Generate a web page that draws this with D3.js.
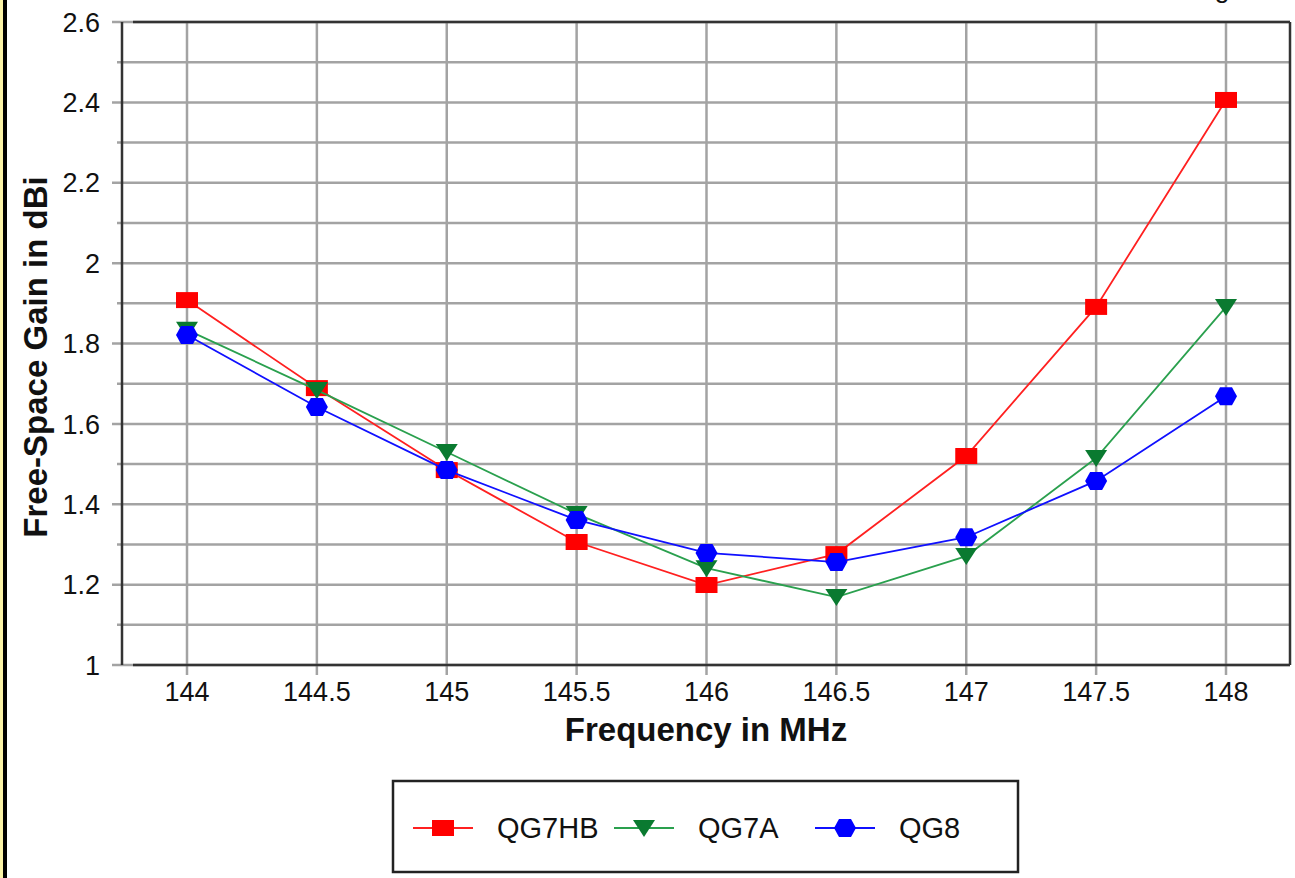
<!DOCTYPE html>
<html><head><meta charset="utf-8">
<script src="https://cdn.jsdelivr.net/npm/d3@7"></script>
<style>
html,body{margin:0;padding:0;background:#fff;overflow:hidden}
text{font-family:"Liberation Sans",Arial,sans-serif;fill:#111}
</style></head>
<body>
<svg id="c" width="1295" height="878"></svg>
<script>
const frequencies = [144, 144.5, 145, 145.5, 146, 146.5, 147, 147.5, 148];
const qg7hb = [1.908, 1.689, 1.485, 1.306, 1.199, 1.276, 1.520, 1.891, 2.406];
const qg7a  = [1.834, 1.684, 1.530, 1.376, 1.241, 1.169, 1.271, 1.515, 1.891];
const qg8   = [1.821, 1.642, 1.485, 1.361, 1.279, 1.256, 1.318, 1.458, 1.669];
const seriesNames = ["QG7HB", "QG7A", "QG8"];
const xTickLabels = ["144","144.5","145","145.5","146","146.5","147","147.5","148"];
const yTickLabels = ["1","1.2","1.4","1.6","1.8","2","2.2","2.4","2.6"];
const yMinorTicks = [1.1,1.3,1.5,1.7,1.9,2.1,2.3,2.5];

const svg = d3.select("#c");
const L = 122, R = 1290, T = 22, B = 665;
const x = d3.scaleLinear().domain([144,148]).range([187,1226]);
const y = d3.scaleLinear().domain([1,2.6]).range([B,T]);

// left border strip
svg.append("rect").attr("x",0).attr("y",0).attr("width",3).attr("height",878).attr("fill","#fbf3a6");
svg.append("rect").attr("x",3).attr("y",0).attr("width",4).attr("height",878).attr("fill","#000");

// clipped title descender (cut off at the top edge, as in the reference)
svg.append("text").attr("x",1222).attr("y",-3).attr("text-anchor","middle").style("font-size","27px").text("g");

const gridColor = "#a3a3a3", axisColor = "#333";
const yVals = yTickLabels.map(Number);
svg.append("g").selectAll("line").data(yVals.concat(yMinorTicks)).join("line")
  .attr("x1", d => yMinorTicks.includes(d) ? 117 : 112).attr("x2", R)
  .attr("y1", d => y(d)).attr("y2", d => y(d))
  .attr("stroke", gridColor).attr("stroke-width", 2.5);
const xVals = xTickLabels.map(Number);
svg.append("g").selectAll("line").data(xVals).join("line")
  .attr("x1", d => x(d)).attr("x2", d => x(d))
  .attr("y1", T).attr("y2", B + 10)
  .attr("stroke", gridColor).attr("stroke-width", 2.5);

const frame = svg.append("g").attr("stroke", axisColor).attr("stroke-width", 2.5);
frame.append("line").attr("x1", L).attr("x2", L).attr("y1", T).attr("y2", B);
frame.append("line").attr("x1", 133).attr("x2", R).attr("y1", T).attr("y2", T);
frame.append("line").attr("x1", 133).attr("x2", R).attr("y1", B).attr("y2", B);
frame.append("line").attr("x1", R).attr("x2", R).attr("y1", T).attr("y2", B);

svg.append("g").selectAll("text").data(yTickLabels).join("text")
  .attr("x", 100).attr("y", d => y(+d)).attr("dy","0.36em")
  .attr("text-anchor","end").style("font-size","27px").text(d => d);
svg.append("g").selectAll("text").data(xTickLabels).join("text")
  .attr("x", d => x(+d)).attr("y", 701)
  .attr("text-anchor","middle").style("font-size","27px").text(d => d);

svg.append("text").attr("x", 706).attr("y", 741).attr("text-anchor","middle")
  .style("font-size","33px").style("font-weight","bold").text("Frequency in MHz");
svg.append("text").attr("transform","translate(47,357) rotate(-90)").attr("text-anchor","middle")
  .style("font-size","33px").style("font-weight","bold").text("Free-Space Gain in dBi");

const markers = {
  square: (cx,cy) => `M${cx-11},${cy-8}h22v16h-22Z`,
  tri: (cx,cy) => `M${cx-11},${cy-8}h22l-11,17Z`,
  hex: (cx,cy) => `M${cx-11},${cy}L${cx-6},${cy-9}H${cx+6}L${cx+11},${cy}L${cx+6},${cy+9}H${cx-6}Z`
};
const series = [
  {name: seriesNames[0], values: qg7hb, line: "#ff2020", fill: "#ff0000", m: "square"},
  {name: seriesNames[1], values: qg7a,  line: "#2aa04e", fill: "#0a7a30", m: "tri"},
  {name: seriesNames[2], values: qg8,   line: "#1010ff", fill: "#0000ff", m: "hex"}
];
const lineGen = d3.line().x(d => x(d[0])).y(d => y(d[1]));
series.forEach(s => {
  const pts = frequencies.map((f,i) => [f, s.values[i]]);
  svg.append("path").attr("d", lineGen(pts)).attr("fill","none")
    .attr("stroke", s.line).attr("stroke-width", 1.8);
  svg.append("g").selectAll("path").data(pts).join("path")
    .attr("d", d => markers[s.m](x(d[0]), y(d[1]))).attr("fill", s.fill);
});

svg.append("rect").attr("x",393).attr("y",781).attr("width",625).attr("height",91)
  .attr("fill","#fff").attr("stroke","#222").attr("stroke-width",2.5);
const legX = [413, 614, 815];
series.forEach((s,i) => {
  const lx = legX[i], ly = 828;
  svg.append("line").attr("x1", lx).attr("x2", lx+60).attr("y1", ly).attr("y2", ly)
    .attr("stroke", s.line).attr("stroke-width", 2);
  svg.append("path").attr("d", markers[s.m](lx+30, ly)).attr("fill", s.fill);
  svg.append("text").attr("x", lx+84).attr("y", ly).attr("dy","0.36em")
    .style("font-size","29px").text(s.name);
});
</script>
</body></html>
